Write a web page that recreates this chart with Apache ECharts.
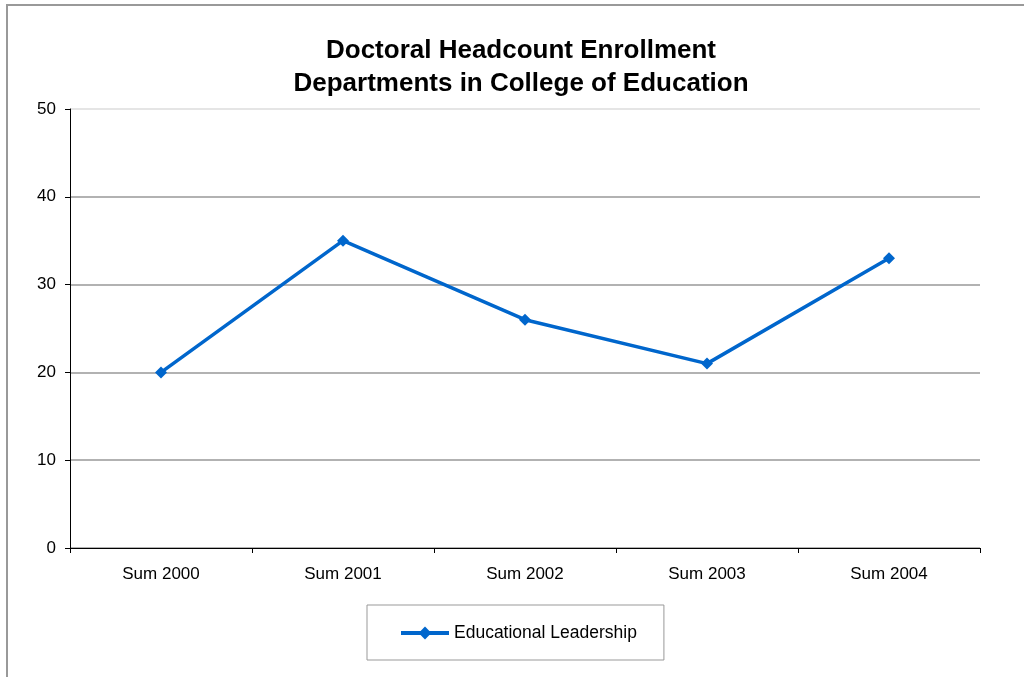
<!DOCTYPE html>
<html lang="en">
<head>
  <meta charset="UTF-8">
  <title>doctoral_headcount</title>
  <script src="https://cdn.jsdelivr.net/npm/echarts@6/dist/echarts.min.js"></script>
  <style>
    *{margin:0;padding:0;}
    body{width:1024px;height:677px;background:#fff;}
    .container{width:1024px;height:677px;}
  </style>
</head>
<body>
  <div class="container"></div>
  <script type="text/javascript">
    var categories = ['Sum 2000', 'Sum 2001', 'Sum 2002', 'Sum 2003', 'Sum 2004']
    var leadership = [20, 35, 26, 21, 33]
    var seriesName = 'Educational Leadership'

    const mCharts = echarts.init(document.querySelector('.container'))
    var font = 'Arial, "Liberation Sans", sans-serif'
    var option = {
      animation: false,
      textStyle: { fontFamily: font },
      title: {
        text: 'Doctoral Headcount Enrollment\nDepartments in College of Education',
        left: 516,
        textAlign: 'center',
        top: 29,
        textStyle: { fontSize: 26, fontWeight: 'bold', color: '#000', lineHeight: 33, fontFamily: font }
      },
      graphic: [{
        type: 'rect',
        shape: { x: 7, y: 5, width: 1040, height: 700 },
        style: { fill: 'none', stroke: '#999', lineWidth: 2 },
        silent: true
      }],
      grid: { left: 70, right: 44, top: 109, bottom: 129 },
      legend: {
        left: 367,
        top: 605,
        padding: [19, 27, 18, 32],
        borderColor: '#999',
        borderWidth: 1,
        itemWidth: 48,
        itemHeight: 16,
        itemGap: 2,
        lineStyle: { width: 4 },
        textStyle: { fontSize: 17.5, color: '#000', fontFamily: font },
        data: [seriesName]
      },
      xAxis: {
        type: 'category',
        data: categories,
        boundaryGap: true,
        axisLine: { lineStyle: { color: '#000', width: 1 } },
        axisTick: { show: true, length: 5, lineStyle: { color: '#000' } },
        axisLabel: { fontSize: 17, color: '#000', margin: 18, fontFamily: font },
        splitLine: { show: false }
      },
      yAxis: {
        type: 'value',
        min: 0,
        max: 50,
        interval: 10,
        axisLine: { show: true, lineStyle: { color: '#000', width: 1 } },
        axisTick: { show: true, length: 5, lineStyle: { color: '#000' } },
        axisLabel: { fontSize: 17, color: '#000', margin: 14, fontFamily: font },
        splitLine: { show: true, lineStyle: { color: ['#999', '#999', '#999', '#999', '#999', '#ddd'], width: 1.5 } }
      },
      series: [{
        name: seriesName,
        type: 'line',
        data: leadership,
        symbol: 'diamond',
        symbolSize: 12,
        itemStyle: { color: '#0066cc' },
        lineStyle: { color: '#0066cc', width: 3.5 }
      }]
    }
    mCharts.setOption(option)
    window.onresize = mCharts.resize
  </script>
</body>
</html>
